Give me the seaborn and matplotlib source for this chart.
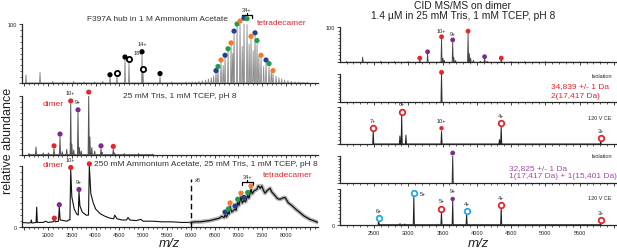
import pandas as pd
import seaborn as sns
import matplotlib.pyplot as plt
from matplotlib.ticker import MultipleLocator

sns.set_style("ticks")
plt.rcParams['font.family'] = ['Liberation Sans', 'DejaVu Sans']

RED = '#e3262b'
PURPLE = '#7e2a8e'
BLUE = '#213f95'
GREEN = '#1e9b4b'
ORANGE = '#f07b2c'
CYAN = '#27a8df'

# ---------------- left column (native MS) ----------------
# top: F397A hub in 1 M ammonium acetate
hub_mz = [2537, 2832, 3100, 3320, 3540, 3760, 3980, 4150, 4302, 4449, 4617, 4701, 4975, 4996, 5353, 5600, 5900]
hub_int = [14, 18, 3, 2, 3, 2, 2, 3, 10, 12, 40, 36, 49, 18, 11, 2, 2]
tet_mz = [5960, 6030, 6100, 6170, 6240, 6310, 6370, 6430, 6480, 6529, 6571, 6634, 6680, 6719, 6782, 6845,
          6880, 6908, 6971, 7034, 7080, 7118, 7181, 7225, 7265, 7310, 7349, 7391, 7430, 7475, 7530, 7580,
          7643, 7690, 7727, 7790, 7850, 7910, 7970, 8040, 8110, 8190, 8270, 8360, 8450]
tet_int = [1, 2, 2, 3, 4, 5, 7, 9, 12, 17, 24, 35, 30, 43, 54, 64,
           50, 84, 96, 100, 62, 100, 99, 66, 74, 55, 80, 67, 45, 42, 28, 34,
           28, 20, 16, 12, 9, 7, 5, 4, 3, 2, 2, 1, 1]
hub_black_mz = [4302, 4617, 4975, 5353]
hub_black_int = [14, 44, 53, 16]
hub_open_mz = [4449, 4701, 4996]
hub_open_int = [17, 40, 23]
tet1_mz = [6529, 6571, 6634, 6719, 6782, 6845, 6908, 6971, 7034, 7118, 7181, 7265, 7349, 7391, 7475, 7580, 7643, 7727]
tet1_int = [21, 28, 39, 47, 58, 68, 88, 100, 105, 110, 109, 79, 85, 72, 47, 39, 33, 21]
tet1_col = ['B', 'G', 'O', 'B', 'G', 'O', 'B', 'G', 'O', 'B', 'G', 'O', 'B', 'G', 'O', 'B', 'G', 'O']

# middle: 25 mM Tris
tris_mz = [2600, 2748, 2900, 3010, 3126, 3252, 3300, 3392, 3477, 3500, 3540, 3630, 3660, 3700,
           3855, 3880, 3920, 3980, 4113, 4140, 4371, 4400, 4600, 4900, 5200]
tris_int = [2, 13, 3, 3, 10, 30, 5, 9, 86, 18, 8, 71, 12, 6, 100, 30, 12, 6, 10, 4, 9, 3, 2, 2, 1]
tris_red_mz = [3126, 3477, 3855, 4371]
tris_red_int = [15, 91, 106, 14]
tris_pur_mz = [3252, 3630, 4113]
tris_pur_int = [35, 76, 15]

# bottom: 250 mM ammonium acetate + Tris (low m/z profile and x8 high m/z profile)
aa_mz = [2454, 2600, 2640, 2650, 2660, 2750, 2762, 2775, 2900, 2950, 3000, 3110, 3133, 3150, 3220, 3237,
         3255, 3400, 3430, 3460, 3477, 3500, 3550, 3600, 3635, 3651, 3670, 3720, 3800, 3850, 3868,
         3900, 3950, 4000, 4100, 4200, 4300, 4380, 4400, 4450, 4550, 4650, 4680, 4720, 4850, 4950,
         5000, 5200, 5400, 5600, 5800, 5990]
aa_int = [8, 7, 8, 12, 7, 8, 33, 8, 8, 10, 8, 9, 12, 9, 10, 33,
          12, 10, 12, 12, 94, 50, 30, 22, 20, 58, 35, 25, 20, 20, 100,
          55, 40, 30, 22, 18, 15, 14, 20, 14, 12, 12, 16, 12, 11, 13,
          10, 10, 9, 9, 8, 8]
hump_mz = [6000, 6100, 6200, 6300, 6400, 6500, 6600, 6650, 6700, 6718, 6750, 6788, 6805, 6823, 6860,
           6928, 6950, 6985, 7010, 7054, 7080, 7118, 7150, 7195, 7220, 7265, 7290, 7330, 7384, 7420,
           7460, 7489, 7530, 7559, 7600, 7664, 7700, 7769, 7820, 7874, 7930, 7979, 8050, 8119, 8200,
           8294, 8370, 8434, 8500, 8573, 8672]
hump_int = [8, 9, 9, 10, 11, 13, 15, 18, 16, 20, 17, 25, 22, 34, 25,
            30, 28, 41, 36, 50, 40, 44, 42, 52, 48, 62, 55, 60, 62, 68,
            64, 68, 60, 56, 60, 64, 58, 52, 47, 46, 48, 49, 40, 36, 30,
            24, 19, 16, 13, 11, 8]
aa_red_mz = [3133, 3477, 3868]
aa_red_int = [15, 98, 104]
aa_pur_mz = [3237, 3651]
aa_pur_int = [37, 62]
tet3_mz = [6718, 6788, 6823, 6928, 6985, 7054, 7118, 7195, 7265]
tet3_int = [25, 30, 40, 35, 46, 56, 49, 57, 68]
tet3_col = ['B', 'G', 'O', 'B', 'G', 'O', 'B', 'G', 'O']
BREAK_MZ = 6000

# ---------------- right column (CID MS/MS) ----------------
ms_mz = [2100, 2335, 2600, 2800, 3000, 3168, 3282, 3485, 3505, 3525, 3648, 3665, 3690, 3872, 3890,
         3910, 3950, 4050, 4113, 4150, 4356, 4500, 4700, 5000, 5500, 5800]
ms_int = [2, 15, 3, 2, 2, 8, 26, 70, 12, 6, 60, 14, 5, 85, 25, 12, 6, 3, 12, 3, 8, 2, 2, 2, 1, 1]
ms_red_mz = [3168, 3485, 3872, 4356]
ms_red_int = [12, 73, 89, 12]
ms_pur_mz = [3282, 3648, 4113]
ms_pur_int = [30, 64, 16]

iso1_mz = [3485]
iso1_int = [100]

cid1_mz = [2489, 2878, 2904, 2966, 3485, 4330, 4355, 5807]
cid1_int = [38, 22, 82, 24, 34, 12, 50, 8]
cid1_open_mz = [2489, 2904, 4355, 5807]
cid1_open_int = [43, 88, 57, 16]
cid1_z = ['7+', '6+', '4+', '3+']

iso2_mz = [3648]
iso2_int = [100]

cid2_mz = [2568, 2880, 2950, 3081, 3484, 3648, 3851, 4355, 5807]
cid2_int = [12, 3, 2, 82, 37, 66, 31, 48, 6]
cid2_cyan_mz = [2568, 3081, 3851]
cid2_cyan_int = [18, 89, 38]
cid2_red_mz = [3484, 4355, 5807]
cid2_red_int = [44, 55, 12]

COLS = {'B': BLUE, 'G': GREEN, 'O': ORANGE}


def sticks(mz, inten, w):
    xs, ys = [], []
    for m, h in sorted(zip(mz, inten)):
        xs += [m - w, m, m + w]
        ys += [0, h, 0]
    return pd.DataFrame({'mz': xs, 'int': ys})


def trace(ax, df, color, lw):
    sns.lineplot(data=df, x='mz', y='int', ax=ax, sort=False, estimator=None,
                 color=color, lw=lw)


def dots(ax, mz, inten, color, hollow=False, s=14):
    if hollow:
        sns.scatterplot(x=mz, y=inten, ax=ax, s=s, color='white', edgecolor=color,
                        linewidth=1.3, zorder=5, clip_on=False, legend=False)
    else:
        sns.scatterplot(x=mz, y=inten, ax=ax, s=s, color=color, edgecolor='none',
                        zorder=5, clip_on=False, legend=False)


def zlab(ax, txt, mz, y, dx=0, dy=4, ha='center'):
    ax.annotate(txt, (mz, y), xytext=(dx, dy), textcoords='offset points',
                fontsize=4, ha=ha, va='bottom', color='#222222')


def style(ax, xlim, xlabels=None, ylab=None):
    ax.set_xlim(*xlim)
    ax.set_ylim(0, 100)
    sns.despine(ax=ax)
    for sp in ['left', 'bottom']:
        ax.spines[sp].set_linewidth(0.9)
    ax.xaxis.set_minor_locator(MultipleLocator(100))
    ax.yaxis.set_minor_locator(MultipleLocator(10))
    ticks = [t for t in range(2000, 9000, 500) if xlim[0] <= t <= xlim[1]]
    ax.set_xticks(ticks)
    if xlabels is None:
        ax.set_xticklabels([''] * len(ticks))
    else:
        ax.set_xticklabels([str(t) if t in xlabels else '' for t in ticks])
    ax.set_yticks([0, 100])
    ax.set_yticklabels(['0' if ylab == 0 else '', '100' if ylab == 100 else ''])
    ax.tick_params(which='major', length=2.2, width=0.6, labelsize=4, pad=1.5)
    ax.tick_params(which='minor', length=1.3, width=0.5)
    ax.set_xlabel('')
    ax.set_ylabel('')


def bracket(ax, x0, x1, y, h, label):
    xm = (x0 + x1) / 2
    ax.plot([x0, x0, x1, x1], [y - h, y, y, y - h], color='black', lw=0.9, clip_on=False)
    ax.plot([xm, xm], [y, y + h * 0.6], color='black', lw=0.9, clip_on=False)
    ax.text(xm, y + h * 0.9, label, fontsize=4, ha='center', va='bottom')


fig = plt.figure(figsize=(6.17, 2.51), dpi=100)
LX = (2454, 8672)
RX = (2004, 6026)

# ---- L1 ----
ax = fig.add_axes([0.0357, 0.6653, 0.4797, 0.2351])
trace(ax, sticks(hub_mz, hub_int, 10), '#808080', 0.6)
trace(ax, sticks(tet_mz, tet_int, 12), '#8a8a8a', 0.6)
dots(ax, hub_black_mz, hub_black_int, 'black')
dots(ax, hub_open_mz, hub_open_int, 'black', hollow=True)
for c in 'BGO':
    dots(ax, [m for m, k in zip(tet1_mz, tet1_col) if k == c],
         [v for v, k in zip(tet1_int, tet1_col) if k == c], COLS[c])
zlab(ax, '14+', 4975, 53)
zlab(ax, '18+', 4701, 40, dx=3, dy=3, ha='left')
bracket(ax, 7070, 7290, 115, 5, '34+')
style(ax, LX, ylab=100)
ax.text(0.458, 1.085, 'F397A hub in 1 M Ammonium Acetate', transform=ax.transAxes,
        fontsize=6, ha='center', va='center', color='#333333')
ax.text(0.794, 1.03, 'tetradecamer', transform=ax.transAxes, fontsize=6,
        ha='left', va='center', color=RED)

# ---- L2 ----
ax = fig.add_axes([0.0357, 0.3797, 0.4797, 0.2351])
trace(ax, sticks(tris_mz, tris_int, 12), '#555555', 0.7)
dots(ax, tris_red_mz, tris_red_int, RED)
dots(ax, tris_pur_mz, tris_pur_int, PURPLE)
zlab(ax, '10+', 3477, 91)
zlab(ax, '9+', 3630, 76)
style(ax, LX)
ax.text(0.341, 0.995, '25 mM Tris, 1 mM TCEP, pH 8', transform=ax.transAxes,
        fontsize=6, ha='left', va='center', color='#333333')
ax.text(0.071, 0.86, 'dimer', transform=ax.transAxes, fontsize=6,
        ha='left', va='center', color=RED)

# ---- L3 ----
ax = fig.add_axes([0.0357, 0.0904, 0.4797, 0.2430])
trace(ax, pd.DataFrame({'mz': aa_mz, 'int': aa_int}), '#111111', 0.8)
sns.lineplot(x=hump_mz, y=hump_int, ax=ax, color='#9a9a9a', lw=3, alpha=0.7)
sns.lineplot(x=hump_mz, y=hump_int, ax=ax, color='#111111', lw=0.9)
ax.axvline(BREAK_MZ, ymax=0.8, color='black', lw=1, ls=(0, (4, 2.5)))
ax.text(BREAK_MZ + 80, 78, 'x8', fontsize=4, ha='left', va='center')
dots(ax, aa_red_mz, aa_red_int, RED)
dots(ax, aa_pur_mz, aa_pur_int, PURPLE)
for c in 'BGO':
    dots(ax, [m for m, k in zip(tet3_mz, tet3_col) if k == c],
         [v for v, k in zip(tet3_int, tet3_col) if k == c], COLS[c])
zlab(ax, '10+', 3477, 98)
zlab(ax, '9+', 3651, 62)
bracket(ax, 7070, 7300, 74, 5, '34+')
style(ax, LX, xlabels=range(3000, 8001, 500), ylab=0)
ax.text(0.243, 1.04, '250 mM Ammonium Acetate, 25 mM Tris, 1 mM TCEP, pH 8',
        transform=ax.transAxes, fontsize=6, ha='left', va='center', color='#333333')
ax.text(0.071, 1.03, 'dimer', transform=ax.transAxes, fontsize=6,
        ha='left', va='center', color=RED)
ax.text(0.814, 0.87, 'tetradecamer', transform=ax.transAxes, fontsize=6,
        ha='left', va='center', color=RED)

# ---- R1 ----
ax = fig.add_axes([0.551, 0.7478, 0.447, 0.1394])
trace(ax, sticks(ms_mz, ms_int, 8), '#444444', 0.6)
dots(ax, ms_red_mz, ms_red_int, RED, s=12)
dots(ax, ms_pur_mz, ms_pur_int, PURPLE, s=12)
zlab(ax, '10+', 3485, 73, dy=3)
zlab(ax, '9+', 3648, 64, dy=3)
style(ax, RX, ylab=100)

# ---- R2 ----
ax = fig.add_axes([0.551, 0.5884, 0.447, 0.1127])
trace(ax, sticks(iso1_mz, iso1_int, 8), '#333333', 0.7)
dots(ax, iso1_mz, [106], RED, s=12)
zlab(ax, '10+', 3485, 106, dx=4, dy=-4, ha='left')
style(ax, RX)
ax.text(0.985, 0.965, 'Isolation', transform=ax.transAxes, fontsize=4, ha='right', va='center')
ax.text(0.764, 0.61, '34,839 +/- 1 Da', transform=ax.transAxes, fontsize=6, ha='left', va='center', color=RED)
ax.text(0.764, 0.23, '2(17,417 Da)', transform=ax.transAxes, fontsize=6, ha='left', va='center', color=RED)

# ---- R3 ----
ax = fig.add_axes([0.551, 0.4223, 0.447, 0.1462])
trace(ax, sticks(cid1_mz, cid1_int, 8), '#222222', 0.7)
dots(ax, cid1_open_mz, cid1_open_int, RED, hollow=True, s=16)
dots(ax, [3485], [43], RED, s=10)
for m, v, z in zip(cid1_open_mz, cid1_open_int, cid1_z):
    zlab(ax, z, m, v)
zlab(ax, '10+', 3485, 43)
style(ax, RX)
ax.text(0.985, 0.73, '120 V CE', transform=ax.transAxes, fontsize=4, ha='right', va='center')

# ---- R4 ----
ax = fig.add_axes([0.551, 0.2669, 0.447, 0.1076])
trace(ax, sticks(iso2_mz, iso2_int, 8), '#333333', 0.7)
dots(ax, iso2_mz, [111], PURPLE, s=12)
zlab(ax, '9+', 3648, 111, dx=4, dy=-6, ha='left')
style(ax, RX)
ax.text(0.985, 1.01, 'Isolation', transform=ax.transAxes, fontsize=4, ha='right', va='center')
ax.text(0.612, 0.58, '32,825 +/- 1 Da', transform=ax.transAxes, fontsize=6, ha='left', va='center', color='#a14aa6')
ax.text(0.612, 0.27, '1(17,417 Da) + 1(15,401 Da)', transform=ax.transAxes, fontsize=6, ha='left', va='center', color='#a14aa6')

# ---- R5 ----
ax = fig.add_axes([0.551, 0.1008, 0.447, 0.1422])
trace(ax, sticks(cid2_mz, cid2_int, 8), '#222222', 0.7)
dots(ax, cid2_cyan_mz, cid2_cyan_int, CYAN, hollow=True, s=16)
dots(ax, cid2_red_mz, cid2_red_int, RED, hollow=True, s=16)
dots(ax, [3648], [72], PURPLE, s=10)
zlab(ax, '6+', 2568, 18)
zlab(ax, '5+', 3081, 89, dx=4, dy=-2, ha='left')
zlab(ax, '5+', 3484, 44)
zlab(ax, '9+', 3648, 72)
zlab(ax, '4+', 3851, 38)
zlab(ax, '4+', 4355, 55)
zlab(ax, '3+', 5807, 12)
style(ax, RX, xlabels=range(2500, 5501, 500), ylab=0)
ax.text(0.985, 0.77, '120 V CE', transform=ax.transAxes, fontsize=4, ha='right', va='center')

# column titles and axis labels
fig.text(0.75, 0.978, 'CID MS/MS on dimer', fontsize=7.4, ha='center', va='center', color='#222222')
fig.text(0.75, 0.935, '1.4 \u00b5M in 25 mM Tris, 1 mM TCEP, pH 8', fontsize=7.4,
         ha='center', va='center', color='#222222')
fig.text(0.013, 0.44, 'relative abundance', rotation=90, fontsize=9, ha='center', va='center',
         color='#222222')
fig.text(0.275, 0.004, 'm/z', fontsize=9.5, style='italic', ha='center', va='bottom', color='#222222')
fig.text(0.775, 0.004, 'm/z', fontsize=9.5, style='italic', ha='center', va='bottom', color='#222222')

fig.savefig('out.png', dpi=100)
